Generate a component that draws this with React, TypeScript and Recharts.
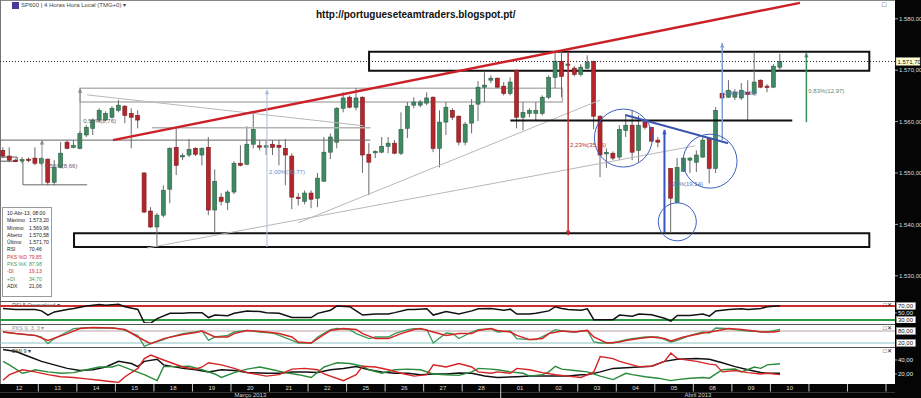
import React from 'react'
import { ComposedChart, LineChart, Line, Bar, XAxis, YAxis, ReferenceLine, ReferenceArea, ReferenceDot } from 'recharts'

const FONT = '"Liberation Sans", Arial, sans-serif'

// x axis is the 4-hour bar number (6 bars a day), y is the index level
const X_DOMAIN: [number, number] = [-0.47, 138.9]
const PRICE_DOMAIN: [number, number] = [1526.07, 1583.66]
const priceTicks = [1530, 1540, 1550, 1560, 1570, 1580]
const lastPrice = 1571.7

// [bar, open, high, low, close]
const candles = [
  [0, 1554.4, 1555.0, 1552.9, 1553.3], [1, 1553.3, 1555.0, 1552.1, 1552.5], [2, 1552.5, 1552.8, 1552.1, 1552.4],
  [3, 1552.5, 1553.1, 1551.9, 1552.6], [4, 1552.7, 1553.0, 1552.1, 1552.6], [5, 1552.9, 1555.0, 1551.5, 1551.9],
  [6, 1551.9, 1553.1, 1551.5, 1552.8], [7, 1552.7, 1552.8, 1547.6, 1548.2], [8, 1548.2, 1552.5, 1547.6, 1551.1],
  [9, 1551.1, 1556.0, 1550.9, 1553.85], [10, 1556.0, 1556.4, 1554.6, 1554.8], [11, 1555.0, 1556.4, 1554.8, 1555.4],
  [12, 1554.8, 1558.1, 1554.6, 1557.7], [13, 1557.4, 1559.3, 1557.0, 1558.9], [14, 1558.7, 1560.6, 1557.4, 1560.3],
  [15, 1560.3, 1562.6, 1559.9, 1562.2], [16, 1560.3, 1562.0, 1560.1, 1561.6], [17, 1560.85, 1563.0, 1560.6, 1562.6],
  [18, 1562.2, 1564.2, 1561.8, 1563.2], [19, 1563.0, 1563.2, 1559.7, 1561.2], [20, 1561.6, 1562.6, 1554.8, 1560.85],
  [21, 1561.2, 1562.2, 1558.7, 1560.3], [22, 1550.0, 1550.2, 1542.2, 1542.4], [23, 1542.6, 1543.35, 1539.3, 1539.5],
  [24, 1539.5, 1542.2, 1535.6, 1541.8], [25, 1541.8, 1547.6, 1541.4, 1546.65], [26, 1546.85, 1555.0, 1544.1, 1554.8],
  [27, 1555.0, 1558.7, 1549.6, 1551.5], [28, 1553.3, 1553.85, 1552.5, 1553.4], [29, 1553.5, 1556.6, 1553.1, 1554.6],
  [30, 1554.8, 1555.0, 1553.3, 1553.65], [31, 1553.5, 1555.0, 1551.5, 1554.8], [32, 1555.0, 1557.0, 1541.8, 1542.8],
  [33, 1542.8, 1550.7, 1538.3, 1548.4], [34, 1545.3, 1546.1, 1543.7, 1544.5], [35, 1544.3, 1546.65, 1542.8, 1546.3],
  [36, 1546.3, 1552.3, 1545.9, 1551.9], [37, 1551.9, 1555.4, 1551.3, 1551.5], [38, 1551.7, 1559.1, 1551.5, 1555.6],
  [39, 1555.6, 1561.6, 1554.8, 1558.5], [40, 1555.3, 1556.4, 1554.4, 1555.2], [41, 1555.2, 1556.4, 1553.5, 1555.3],
  [42, 1555.6, 1556.4, 1553.5, 1555.0], [43, 1555.4, 1556.4, 1551.5, 1555.0], [44, 1554.8, 1556.6, 1547.6, 1553.5],
  [45, 1553.3, 1553.85, 1542.95, 1545.3], [46, 1545.3, 1546.1, 1543.7, 1545.1], [47, 1544.5, 1546.6, 1543.9, 1546.1],
  [48, 1546.1, 1546.65, 1543.15, 1544.9], [49, 1545.1, 1550.0, 1543.35, 1549.0], [50, 1548.4, 1557.0, 1548.4, 1554.05],
  [51, 1554.05, 1557.7, 1552.7, 1557.0], [52, 1556.0, 1562.8, 1554.8, 1562.6], [53, 1562.6, 1565.7, 1561.8, 1564.6],
  [54, 1564.75, 1565.1, 1562.6, 1562.8], [55, 1562.8, 1566.5, 1562.2, 1564.6], [56, 1564.75, 1564.9, 1550.0, 1553.5],
  [57, 1553.65, 1555.8, 1545.7, 1552.1], [58, 1554.05, 1554.4, 1552.9, 1554.2], [59, 1554.05, 1557.0, 1553.85, 1555.2],
  [60, 1555.2, 1557.0, 1553.85, 1555.8], [61, 1555.8, 1556.4, 1553.65, 1553.85], [62, 1553.85, 1561.8, 1553.5, 1558.5],
  [63, 1558.7, 1563.8, 1556.8, 1563.0], [64, 1563.2, 1564.75, 1562.6, 1563.8], [65, 1563.2, 1564.2, 1562.8, 1563.8],
  [66, 1563.6, 1565.7, 1563.2, 1564.6], [67, 1564.75, 1564.9, 1554.05, 1554.8], [68, 1554.8, 1562.2, 1551.1, 1559.9],
  [69, 1559.9, 1563.8, 1557.4, 1562.8], [70, 1562.2, 1562.6, 1560.3, 1560.85], [71, 1561.05, 1561.2, 1555.4, 1556.0],
  [72, 1556.0, 1559.9, 1555.4, 1559.5], [73, 1559.7, 1564.4, 1557.7, 1563.2], [74, 1563.4, 1567.9, 1560.1, 1566.7],
  [75, 1566.7, 1569.6, 1563.8, 1567.1], [76, 1568.06, 1569.0, 1567.5, 1568.45], [77, 1568.45, 1568.6, 1566.5, 1566.7],
  [78, 1566.9, 1567.7, 1565.1, 1565.5], [79, 1565.5, 1568.6, 1565.1, 1567.7], [80, 1570.0, 1570.2, 1558.7, 1560.85],
  [81, 1560.85, 1563.8, 1558.3, 1561.8], [82, 1561.6, 1562.6, 1560.85, 1562.2], [83, 1561.6, 1563.8, 1560.1, 1562.2],
  [84, 1561.6, 1565.1, 1561.2, 1564.75], [85, 1564.75, 1569.0, 1564.4, 1568.6], [86, 1568.6, 1573.5, 1566.5, 1571.75],
  [87, 1571.75, 1573.5, 1564.75, 1568.8], [88, 1571.0, 1571.56, 1570.8, 1571.2], [89, 1570.4, 1570.8, 1568.8, 1569.2],
  [90, 1569.2, 1571.2, 1568.8, 1570.6], [91, 1570.4, 1572.9, 1570.2, 1571.56], [92, 1571.75, 1571.8, 1558.5, 1561.05],
  [93, 1561.05, 1561.2, 1549.2, 1553.5], [94, 1553.85, 1554.8, 1551.0, 1554.0], [95, 1553.85, 1554.2, 1552.5, 1552.9],
  [96, 1553.1, 1559.3, 1552.5, 1558.5], [97, 1558.3, 1561.4, 1557.0, 1559.3], [98, 1559.3, 1562.2, 1552.5, 1554.05],
  [99, 1554.4, 1561.2, 1552.1, 1559.3], [100, 1559.9, 1560.3, 1558.5, 1558.9], [101, 1558.9, 1558.9, 1556.0, 1556.2],
  [102, 1556.4, 1557.0, 1555.0, 1556.0], [104, 1550.9, 1550.9, 1538.3, 1545.1], [105, 1544.3, 1552.9, 1544.1, 1551.1],
  [106, 1550.35, 1553.1, 1550.2, 1552.9], [107, 1552.5, 1553.1, 1550.0, 1552.9], [108, 1552.1, 1554.4, 1550.2, 1553.5],
  [109, 1553.1, 1557.0, 1552.9, 1556.4], [110, 1556.8, 1557.0, 1548.0, 1550.9], [111, 1550.9, 1562.8, 1550.0, 1562.2],
  [112, 1565.5, 1565.7, 1564.4, 1564.6], [113, 1564.75, 1568.06, 1564.6, 1566.1], [114, 1564.75, 1566.3, 1564.2, 1565.7],
  [115, 1564.6, 1567.5, 1564.2, 1566.1], [116, 1565.7, 1568.06, 1560.3, 1565.3], [117, 1565.5, 1573.5, 1565.1, 1567.7],
  [118, 1568.06, 1568.2, 1566.5, 1566.7], [119, 1566.9, 1567.3, 1565.7, 1566.7], [120, 1566.7, 1571.17, 1566.5, 1570.78],
  [121, 1570.58, 1573.2, 1569.96, 1571.7],
]

// indicator readings: [bar, value]
const rsi = [[0,63],[2,60],[5,60],[6,56],[7,44],[8,53],[10,60],[11,63],[13,70],[15,74],[16,72],[18,75],[19,68],[21,60],[22,22],[23,21],[24,34],[26,49],[28,49],[29,51],[31,51],[32,37],[33,44],[35,42],[36,49],[38,56],[40,54],[41,51],[43,49],[45,37],[46,37],[48,37],[49,49],[51,58],[52,70],[54,68],[55,56],[56,44],[58,47],[60,47],[61,51],[63,60],[64,60],[66,62],[67,44],[69,54],[71,47],[73,56],[74,62],[76,63],[78,58],[79,61],[80,47],[82,47],[83,49],[85,56],[86,68],[87,63],[88,60],[90,58],[91,62],[92,31],[95,31],[96,44],[98,41],[99,47],[101,45],[103,35],[104,27],[105,43],[107,43],[109,47],[110,41],[111,56],[113,60],[115,62],[116,60],[118,63],[119,68],[121,70.46]]
const pksK = [[0,75],[2,67],[5,58],[6,50],[7,17],[8,42],[10,75],[11,92],[13,97],[15,95],[17,95],[18,92],[19,83],[21,58],[22,3],[23,17],[25,37],[26,50],[28,67],[30,75],[31,80],[32,33],[33,50],[35,58],[36,75],[38,83],[40,75],[42,70],[43,58],[45,33],[46,20],[48,20],[49,50],[51,87],[52,93],[54,87],[55,67],[57,42],[58,50],[60,50],[61,67],[63,87],[64,92],[66,87],[67,20],[69,70],[70,67],[71,42],[73,75],[74,87],[76,92],[77,75],[79,80],[80,42],[82,37],[83,37],[85,67],[86,87],[87,80],[89,75],[91,83],[92,25],[93,20],[95,20],[97,37],[98,42],[100,50],[102,50],[104,25],[105,33],[107,58],[109,75],[110,70],[111,95],[113,92],[114,87],[116,80],[118,77],[119,75],[121,87.98]]
const pksD = [[0,75],[2,67],[5,58],[7,33],[10,67],[12,92],[14,97],[17,95],[19,87],[21,50],[23,17],[25,42],[28,62],[30,72],[31,80],[33,50],[35,50],[36,67],[38,83],[41,75],[43,67],[45,50],[46,25],[48,20],[49,42],[51,83],[53,92],[55,88],[56,67],[58,42],[60,42],[62,67],[64,87],[65,92],[67,75],[69,58],[71,67],[73,67],[74,83],[76,92],[77,83],[79,75],[80,58],[82,37],[84,42],[85,67],[87,80],[89,75],[91,83],[92,50],[94,20],[96,25],[97,33],[99,42],[101,50],[103,42],[104,30],[106,50],[109,70],[111,80],[113,92],[115,87],[117,80],[118,75],[120,75],[121,79.85]]
const adx = [[0,55],[2,52],[4,45],[6,38],[8,33],[10,28],[12,25],[14,26],[16,30],[18,38],[20,35],[21,30.5],[22,38],[24,41],[25,33],[28,28],[30,26],[32,23],[34,26],[36,25],[38,22],[41,21],[43,21],[45,23],[47,23],[49,22],[51,26],[53,28],[55,30.5],[57,26],[59,23],[61,21],[63,21],[65,19],[67,20],[69,20],[71,21.5],[73,21],[75,17],[77,15],[80,16],[82,17],[84,17],[86,17],[88,17],[90,19],[91,19],[93,23],[95,28],[97,29],[99,30],[101,31],[103,38],[105,41],[108,42],[110,41],[112,36],[114,30.5],[116,26],[118,22],[119,21],[121,21.06]]
const plusDI = [[0,38],[1,33],[3,21],[4,23],[5,26],[7,23],[9,21],[11,22],[13,26],[15,30],[17,30],[18,33],[20,26],[22,19],[24,10.5],[25,30.5],[27,30.5],[29,31],[31,26],[33,20],[34,15],[36,22],[38,27],[40,30],[42,26],[44,22],[46,19],[48,15],[50,30],[51,33],[52,36],[54,35],[56,31],[57,26],[59,21],[61,26],[63,27],[65,26],[67,20],[69,19],[71,18],[73,23],[74,28],[76,27],[77,26],[79,23],[81,21],[82,17],[84,19],[85,23],[86,31],[87,27],[89,25],[91,23],[93,17],[95,12],[97,21],[98,19],[100,16],[102,14],[104,10.5],[105,12],[107,14],[109,15],[110,14],[112,26],[114,27],[115,23],[117,30],[118,28],[119,33],[121,34.7]]
const minusDI = [[0,11],[1,19],[3,26],[5,23],[7,19],[9,16],[11,15],[13,13],[15,11],[17,9],[18,8],[19,16],[21,28],[22,42],[23,47],[25,40],[28,30],[30,27],[31,30],[32,36],[34,33],[36,28],[38,22],[41,17],[43,19],[45,27],[47,28],[49,26],[50,20],[53,10.5],[55,19],[56,31],[58,30],[60,26],[62,21],[64,17],[66,19],[67,33],[69,30],[71,35],[73,30],[74,23],[76,21],[77,23],[79,21],[80,28],[82,26],[84,22],[86,19],[88,17],[90,15],[92,23],[93,45],[95,42],[96,38],[98,33],[99,30.5],[101,31],[103,38],[104,50],[105,42],[108,38],[110,34],[111,33],[112,23],[114,25],[116,22],[118,20],[119,21],[121,19.13]]

const dayLabels = ['12','13','14','15','18','19','20','21','22','25','26','27','28','01','02','03','04','05','08','09','10']
const emptyDays = 3
const monthLabels = ['Março 2013', 'Abril 2013']
const monthStartDay = [0, 13]
const BARS_PER_DAY = 6

// drawn studies, in [bar, price]
const resistanceBox = [57.0, 134.9, 1569.9, 1573.6]
const supportBox = [11.06, 134.9, 1535.6, 1538.3]
const rangeBox = [12.0, 87.1, 1563.8, 1566.5]
const smallBox = [-0.47, 2.2, 1552.3, 1553.1]
const redTrend = [[17.13, 1556.4], [124.1, 1583.1]]
const blueTrend = [[96.9, 1561.3], [112.9, 1555.8]]
const neckLine = [[79.0, 1560.2], [122.9, 1560.2]]
const grayLines = [
  [[-0.47, 1556.4], [57.2, 1556.4]],
  [[23.2, 1558.8], [57.2, 1558.8]],
  [[3.1, 1547.7], [13.1, 1547.7]],
  [[3.1, 1552.5], [3.1, 1547.7]],
]
const thinDiagonals = [
  [[45.95, 1540.3], [93.0, 1564.2]],
  [[22.4, 1535.4], [107.8, 1555.3]],
  [[13.1, 1565.2], [56.1, 1559.2]],
]
const arrows = [
  { from: [6.07, 1547.7], to: [6.07, 1556.4], color: '#8a8a8a', w: 1 },
  { from: [12.0, 1557.8], to: [12.0, 1566.5], color: '#8a8a8a', w: 1 },
  { from: [41.1, 1535.6], to: [41.1, 1566.2], color: '#a9bbdc', w: 1 },
  { from: [88.0, 1573.5], to: [88.0, 1537.9], color: '#c3272d', w: 1.5 },
  { from: [103.0, 1538.5], to: [103.0, 1558.4], color: '#3456c4', w: 2 },
  { from: [112.0, 1556.4], to: [112.0, 1575.3], color: '#7f9fd4', w: 1.5 },
  { from: [125.1, 1559.9], to: [125.1, 1573.4], color: '#3d8a5f', w: 1.5 },
]
const circles = [
  { at: [96.6, 1556.8], r: 29 },
  { at: [105.0, 1540.5], r: 19 },
  { at: [110.1, 1552.3], r: 27 },
]
const notes = [
  { at: [6.5, 1551.4], text: '0,56%(8,66)', color: '#5b6070' },
  { at: [12.5, 1560.1], text: '0,56%(8,76)', color: '#5b6070' },
  { at: [41.4, 1550.2], text: '2,00%(30,77)', color: '#6f86bf' },
  { at: [88.3, 1555.4], text: '2,23%(35,35)', color: '#c3272d' },
  { at: [103.4, 1547.9], text: '1,27%(19,54)', color: '#5a72b8' },
  { at: [112.3, 1565.6], text: '0,45%(6,95)', color: '#5a72b8' },
  { at: [125.4, 1566.0], text: '0,83%(12,97)', color: '#5a8a72' },
]

const infoRows = [
  ['10-Abr-13, 08:00', '', '#222'],
  ['Máximo', '1.573,20', '#222'],
  ['Mínimo', '1.569,96', '#222'],
  ['Aberto', '1.570,58', '#222'],
  ['Último', '1.571,70', '#222'],
  ['RSI', '70,46', '#222'],
  ['PKS %D', '79,85', '#d0343a'],
  ['PKS %K', '87,98', '#3f9a64'],
  ['-DI', '19,13', '#d0343a'],
  ['+DI', '34,70', '#3f9a64'],
  ['ADX', '21,06', '#222'],
]

const candleData = candles.map(([i, o, h, l, c]) => ({ i, o, h, l, c }))
const pts = (arr: number[][]) => arr.map(([i, v]) => ({ i, v }))

const fmt = (v: number) => {
  const [a, b] = v.toFixed(2).split('.')
  return a.replace(/\B(?=(\d{3})+(?!\d))/g, '.') + ',' + b
}

function Candle(props: any) {
  const { x, y, width, height, payload } = props
  if (!payload || height == null || isNaN(y)) return null
  const { o, h, l, c } = payload
  const span = h - l || 1
  const py = (v: number) => y + ((h - v) / span) * height
  const cx = x + width / 2
  const up = c >= o
  const top = py(Math.max(o, c))
  const bodyH = Math.max(py(Math.min(o, c)) - top, 1.4)
  return (
    <g>
      <line x1={cx} x2={cx} y1={y} y2={y + height} stroke="#6a6a6a" strokeWidth={1} />
      <rect x={cx - 2} y={top} width={4} height={bodyH}
        fill={up ? '#3f8a62' : '#b3262b'} stroke={up ? '#2d5f45' : '#7a1a1e'} strokeWidth={0.6} />
    </g>
  )
}

const arrowShape = (color: string, w: number) => (p: any) => {
  const { x1, y1, x2, y2 } = p
  const ang = Math.atan2(y2 - y1, x2 - x1)
  const s = 5
  const a1 = ang + Math.PI - 0.45
  const a2 = ang + Math.PI + 0.45
  return (
    <g>
      <line x1={x1} y1={y1} x2={x2} y2={y2} stroke={color} strokeWidth={w} />
      <polygon fill={color}
        points={`${x2},${y2} ${x2 + s * Math.cos(a1)},${y2 + s * Math.sin(a1)} ${x2 + s * Math.cos(a2)},${y2 + s * Math.sin(a2)}`} />
    </g>
  )
}

function PriceTick(p: any) {
  const { x, y, payload } = p
  return (
    <g>
      <line x1={x} x2={x + 3} y1={y} y2={y} stroke="#aaa" />
      <text x={x + 4} y={y + 2.2} fontSize={6} fill="#ddd">{fmt(payload.value)}</text>
    </g>
  )
}

const indTick = (boxed: number[]) => (p: any) => {
  const { x, y, payload } = p
  const isBoxed = boxed.includes(payload.value)
  return (
    <g>
      {isBoxed && <rect x={x + 1.5} y={y - 3.5} width={19} height={7} fill="#fff" stroke="#999" strokeWidth={0.5} />}
      {!isBoxed && <line x1={x} x2={x + 2} y1={y} y2={y} stroke="#aaa" />}
      <text x={x + 3} y={y + 2.1} fontSize={6} fill={isBoxed ? '#111' : '#e8e8e8'}>{fmt(payload.value)}</text>
    </g>
  )
}

function LastPriceTag(p: any) {
  const vb = p.viewBox || {}
  const x = (vb.x ?? 0) + (vb.width ?? 0)
  const y = vb.y ?? 0
  return (
    <g>
      <rect x={x + 1} y={y - 4} width={24} height={8} fill="#ffffd2" stroke="#888" strokeWidth={0.5} />
      <text x={x + 2.5} y={y + 2.2} fontSize={6} fill="#111">{fmt(lastPrice)}</text>
    </g>
  )
}

// date axis: day dividers, day labels, month labels
type AxisMark = { kind: 'bound' | 'monthBound' | 'day' | 'month'; label?: string }
const axisMarks = new Map<number, AxisMark>()
dayLabels.forEach((d, k) => axisMarks.set(k * BARS_PER_DAY + 2.5, { kind: 'day', label: d }))
for (let k = 1; k <= dayLabels.length + emptyDays - 1; k++) {
  axisMarks.set(k * BARS_PER_DAY - 0.5, { kind: monthStartDay.includes(k) ? 'monthBound' : 'bound' })
}
monthLabels.forEach((m, j) => {
  const from = j === 0 ? X_DOMAIN[0] : monthStartDay[j] * BARS_PER_DAY - 0.5
  const to = j + 1 < monthStartDay.length ? monthStartDay[j + 1] * BARS_PER_DAY - 0.5 : X_DOMAIN[1]
  axisMarks.set((from + to) / 2 + 0.01, { kind: 'month', label: m })
})
const axisTicks = Array.from(axisMarks.keys()).sort((a, b) => a - b)

function DateTick(p: any) {
  const { x, y, payload } = p
  const m = axisMarks.get(payload.value)
  if (!m) return null
  if (m.kind === 'bound') return <line x1={x} x2={x} y1={y} y2={y + 7.5} stroke="#c8c8c8" />
  if (m.kind === 'monthBound') return <line x1={x} x2={x} y1={y} y2={y + 14} stroke="#c8c8c8" />
  if (m.kind === 'day') return <text x={x} y={y + 6.2} fontSize={6} fill="#ddd" textAnchor="middle">{m.label}</text>
  return <text x={x} y={y + 13} fontSize={6} fill="#ccc" textAnchor="middle">{m.label}</text>
}

const abs = (left: number, top: number, extra: React.CSSProperties = {}): React.CSSProperties => ({
  position: 'absolute', left, top, ...extra,
})

export default function App() {
  const xAxis = <XAxis type="number" dataKey="i" domain={X_DOMAIN} allowDataOverflow hide />
  return (
    <div style={{ position: 'relative', width: 921, height: 398, overflow: 'hidden', background: '#fff', fontFamily: FONT }}>
      <style>{'body{margin:0}'}</style>
      {/* black axis strips */}
      <div style={abs(895, 0, { width: 26, height: 398, background: '#050505' })} />
      <div style={abs(0, 384, { width: 921, height: 14, background: '#050505' })} />
      <div style={abs(0, 391.5, { width: 895, height: 1, background: '#333' })} />
      {/* frame lines */}
      <div style={abs(0, 0, { width: 895, height: 1, background: '#888' })} />
      <div style={abs(0, 0, { width: 1, height: 384, background: '#777' })} />
      <div style={abs(0, 301, { width: 895, height: 1, background: '#555' })} />
      <div style={abs(0, 324, { width: 895, height: 1, background: '#555' })} />
      <div style={abs(0, 347, { width: 895, height: 1, background: '#555' })} />

      <div style={abs(0, 0)}>
        <ComposedChart width={921} height={296} data={candleData} margin={{ top: 0, right: 0, bottom: 0, left: 0 }}>
          {xAxis}
          <YAxis orientation="right" width={26} domain={PRICE_DOMAIN} allowDataOverflow ticks={priceTicks} interval={0}
            tick={PriceTick} tickLine={false} axisLine={false} tickSize={0} tickMargin={0} />
          <ReferenceArea x1={rangeBox[0]} x2={rangeBox[1]} y1={rangeBox[2]} y2={rangeBox[3]}
            fill="none" stroke="#b4b4b4" strokeWidth={1.5} ifOverflow="visible" />
          <ReferenceArea x1={smallBox[0]} x2={smallBox[1]} y1={smallBox[2]} y2={smallBox[3]}
            fill="none" stroke="#555" strokeWidth={1} ifOverflow="visible" />
          {grayLines.map((s, k) => (
            <ReferenceLine key={'g' + k} segment={s.map(([x, y]) => ({ x, y }))} stroke={k === 1 ? '#b4b4b4' : '#666'}
              strokeWidth={k === 1 ? 1.5 : 1} ifOverflow="visible" />
          ))}
          {thinDiagonals.map((s, k) => (
            <ReferenceLine key={'d' + k} segment={s.map(([x, y]) => ({ x, y }))} stroke="#b8b8b8" strokeWidth={1} ifOverflow="visible" />
          ))}
          <Bar dataKey={(d: any) => [d.l, d.h]} shape={Candle} barSize={4} isAnimationActive={false} />
          <ReferenceArea x1={resistanceBox[0]} x2={resistanceBox[1]} y1={resistanceBox[2]} y2={resistanceBox[3]}
            fill="none" stroke="#111" strokeWidth={2} ifOverflow="visible" />
          <ReferenceArea x1={supportBox[0]} x2={supportBox[1]} y1={supportBox[2]} y2={supportBox[3]}
            fill="none" stroke="#111" strokeWidth={2} ifOverflow="visible" />
          <ReferenceLine y={lastPrice} stroke="#222" strokeDasharray="1 2" label={<LastPriceTag />} />
          <ReferenceLine segment={neckLine.map(([x, y]) => ({ x, y }))} stroke="#111" strokeWidth={2} ifOverflow="visible" />
          <ReferenceLine segment={redTrend.map(([x, y]) => ({ x, y }))} stroke="#cc2027" strokeWidth={2.5} ifOverflow="visible" />
          <ReferenceLine segment={blueTrend.map(([x, y]) => ({ x, y }))} stroke="#3a56b0" strokeWidth={2} ifOverflow="visible" />
          {arrows.map((a, k) => (
            <ReferenceLine key={'a' + k} segment={[{ x: a.from[0], y: a.from[1] }, { x: a.to[0], y: a.to[1] }]}
              shape={arrowShape(a.color, a.w)} ifOverflow="visible" />
          ))}
          {circles.map((c, k) => (
            <ReferenceDot key={'c' + k} x={c.at[0]} y={c.at[1]} r={c.r} fill="none" stroke="#3d5fc0" strokeWidth={1} ifOverflow="visible" />
          ))}
          {notes.map((n, k) => (
            <ReferenceDot key={'n' + k} x={n.at[0]} y={n.at[1]} r={0} stroke="none" ifOverflow="visible"
              label={{ value: n.text, position: 'right', offset: 0, fill: n.color, fontSize: 6 }} />
          ))}
        </ComposedChart>
      </div>

      <div style={abs(0, 302)}>
        <LineChart width={921} height={21} margin={{ top: 0, right: 0, bottom: 0, left: 0 }}>
          {xAxis}
          <YAxis orientation="right" width={26} domain={[21.4, 81.4]} allowDataOverflow ticks={[30, 50, 70]} interval={0}
            tick={indTick([30, 70])} tickLine={false} axisLine={false} tickSize={0} tickMargin={0} />
          <ReferenceLine y={70} stroke="#d42a2a" strokeWidth={2} />
          <ReferenceLine y={30} stroke="#2f9a45" strokeWidth={2} />
          <Line data={pts(rsi)} dataKey="v" stroke="#111" strokeWidth={1.5} dot={false} isAnimationActive={false} />
        </LineChart>
      </div>

      <div style={abs(0, 325)}>
        <LineChart width={921} height={22} margin={{ top: 0, right: 0, bottom: 0, left: 0 }}>
          {xAxis}
          <YAxis orientation="right" width={26} domain={[0, 110]} allowDataOverflow ticks={[20, 80]} interval={0}
            tick={indTick([20, 80])} tickLine={false} axisLine={false} tickSize={0} tickMargin={0} />
          <ReferenceLine y={80} stroke="#b9a2a2" strokeWidth={1} />
          <ReferenceLine y={20} stroke="#8cc4c4" strokeWidth={1} />
          <Line data={pts(pksK)} dataKey="v" stroke="#3a9a5c" strokeWidth={1.3} dot={false} isAnimationActive={false} />
          <Line data={pts(pksD)} dataKey="v" stroke="#d62424" strokeWidth={1.5} dot={false} isAnimationActive={false} />
        </LineChart>
      </div>

      <div style={abs(0, 348)}>
        <LineChart width={921} height={50} margin={{ top: 0, right: 0, bottom: 0, left: 0 }}>
          <XAxis type="number" dataKey="i" domain={X_DOMAIN} allowDataOverflow ticks={axisTicks} interval={0}
            tick={DateTick} tickLine={false} axisLine={false} height={14} tickSize={0} tickMargin={0} />
          <YAxis orientation="right" width={26} domain={[5.7, 57.1]} allowDataOverflow ticks={[20, 40]} interval={0}
            tick={indTick([])} tickLine={false} axisLine={false} tickSize={0} tickMargin={0} />
          <Line data={pts(adx)} dataKey="v" stroke="#111" strokeWidth={1.5} dot={false} isAnimationActive={false} />
          <Line data={pts(plusDI)} dataKey="v" stroke="#2a8a3a" strokeWidth={1.4} dot={false} isAnimationActive={false} />
          <Line data={pts(minusDI)} dataKey="v" stroke="#d62424" strokeWidth={1.4} dot={false} isAnimationActive={false} />
        </LineChart>
      </div>

      {/* header */}
      <div style={abs(12, 2, { width: 7, height: 7, background: '#4b3a9a' })} />
      <div style={abs(21, 2, { fontSize: 6, color: '#444', whiteSpace: 'nowrap', lineHeight: '7px' })}>
        SP600 | 4 Horas Hora Local (TMG+0) ▾
      </div>
      <div style={abs(316, 9, { fontSize: 10, fontWeight: 700, color: '#111', whiteSpace: 'nowrap', lineHeight: '12px' })}>
        http://portugueseteamtraders.blogspot.pt/
      </div>
      <div style={abs(882, 1, { fontSize: 7, color: '#333', lineHeight: '8px' })}>□</div>

      {/* indicator titles */}
      <div style={abs(12, 302, { fontSize: 5.5, color: '#555', whiteSpace: 'nowrap', lineHeight: '7px' })}>RSI 5 Overvalued ▾</div>
      <div style={abs(12, 325, { fontSize: 5.5, color: '#8a9a9a', whiteSpace: 'nowrap', lineHeight: '7px' })}>PKS 9, 3, 3 ▾</div>
      <div style={abs(12, 348, { fontSize: 5.5, color: '#333', whiteSpace: 'nowrap', lineHeight: '7px' })}>DMI 9 ▾</div>
      {[302, 325, 348].map((t) => (
        <div key={t} style={abs(883, t, { fontSize: 6, color: '#222', whiteSpace: 'nowrap', lineHeight: '7px' })}>□✕</div>
      ))}

      {/* data window */}
      <div style={abs(2, 207, { width: 50, height: 90, background: '#fff', border: '1px solid #9a9a9a', boxSizing: 'border-box', padding: '2px 0 0 4px' })}>
        {infoRows.map(([k, v, col], n) => (
          <div key={n} style={{ display: 'flex', fontSize: 5.1, lineHeight: '7.3px', color: col, whiteSpace: 'nowrap' }}>
            <span style={{ width: v ? 22 : 44, flexShrink: 0 }}>{k}</span>
            <span>{v}</span>
          </div>
        ))}
      </div>
    </div>
  )
}
